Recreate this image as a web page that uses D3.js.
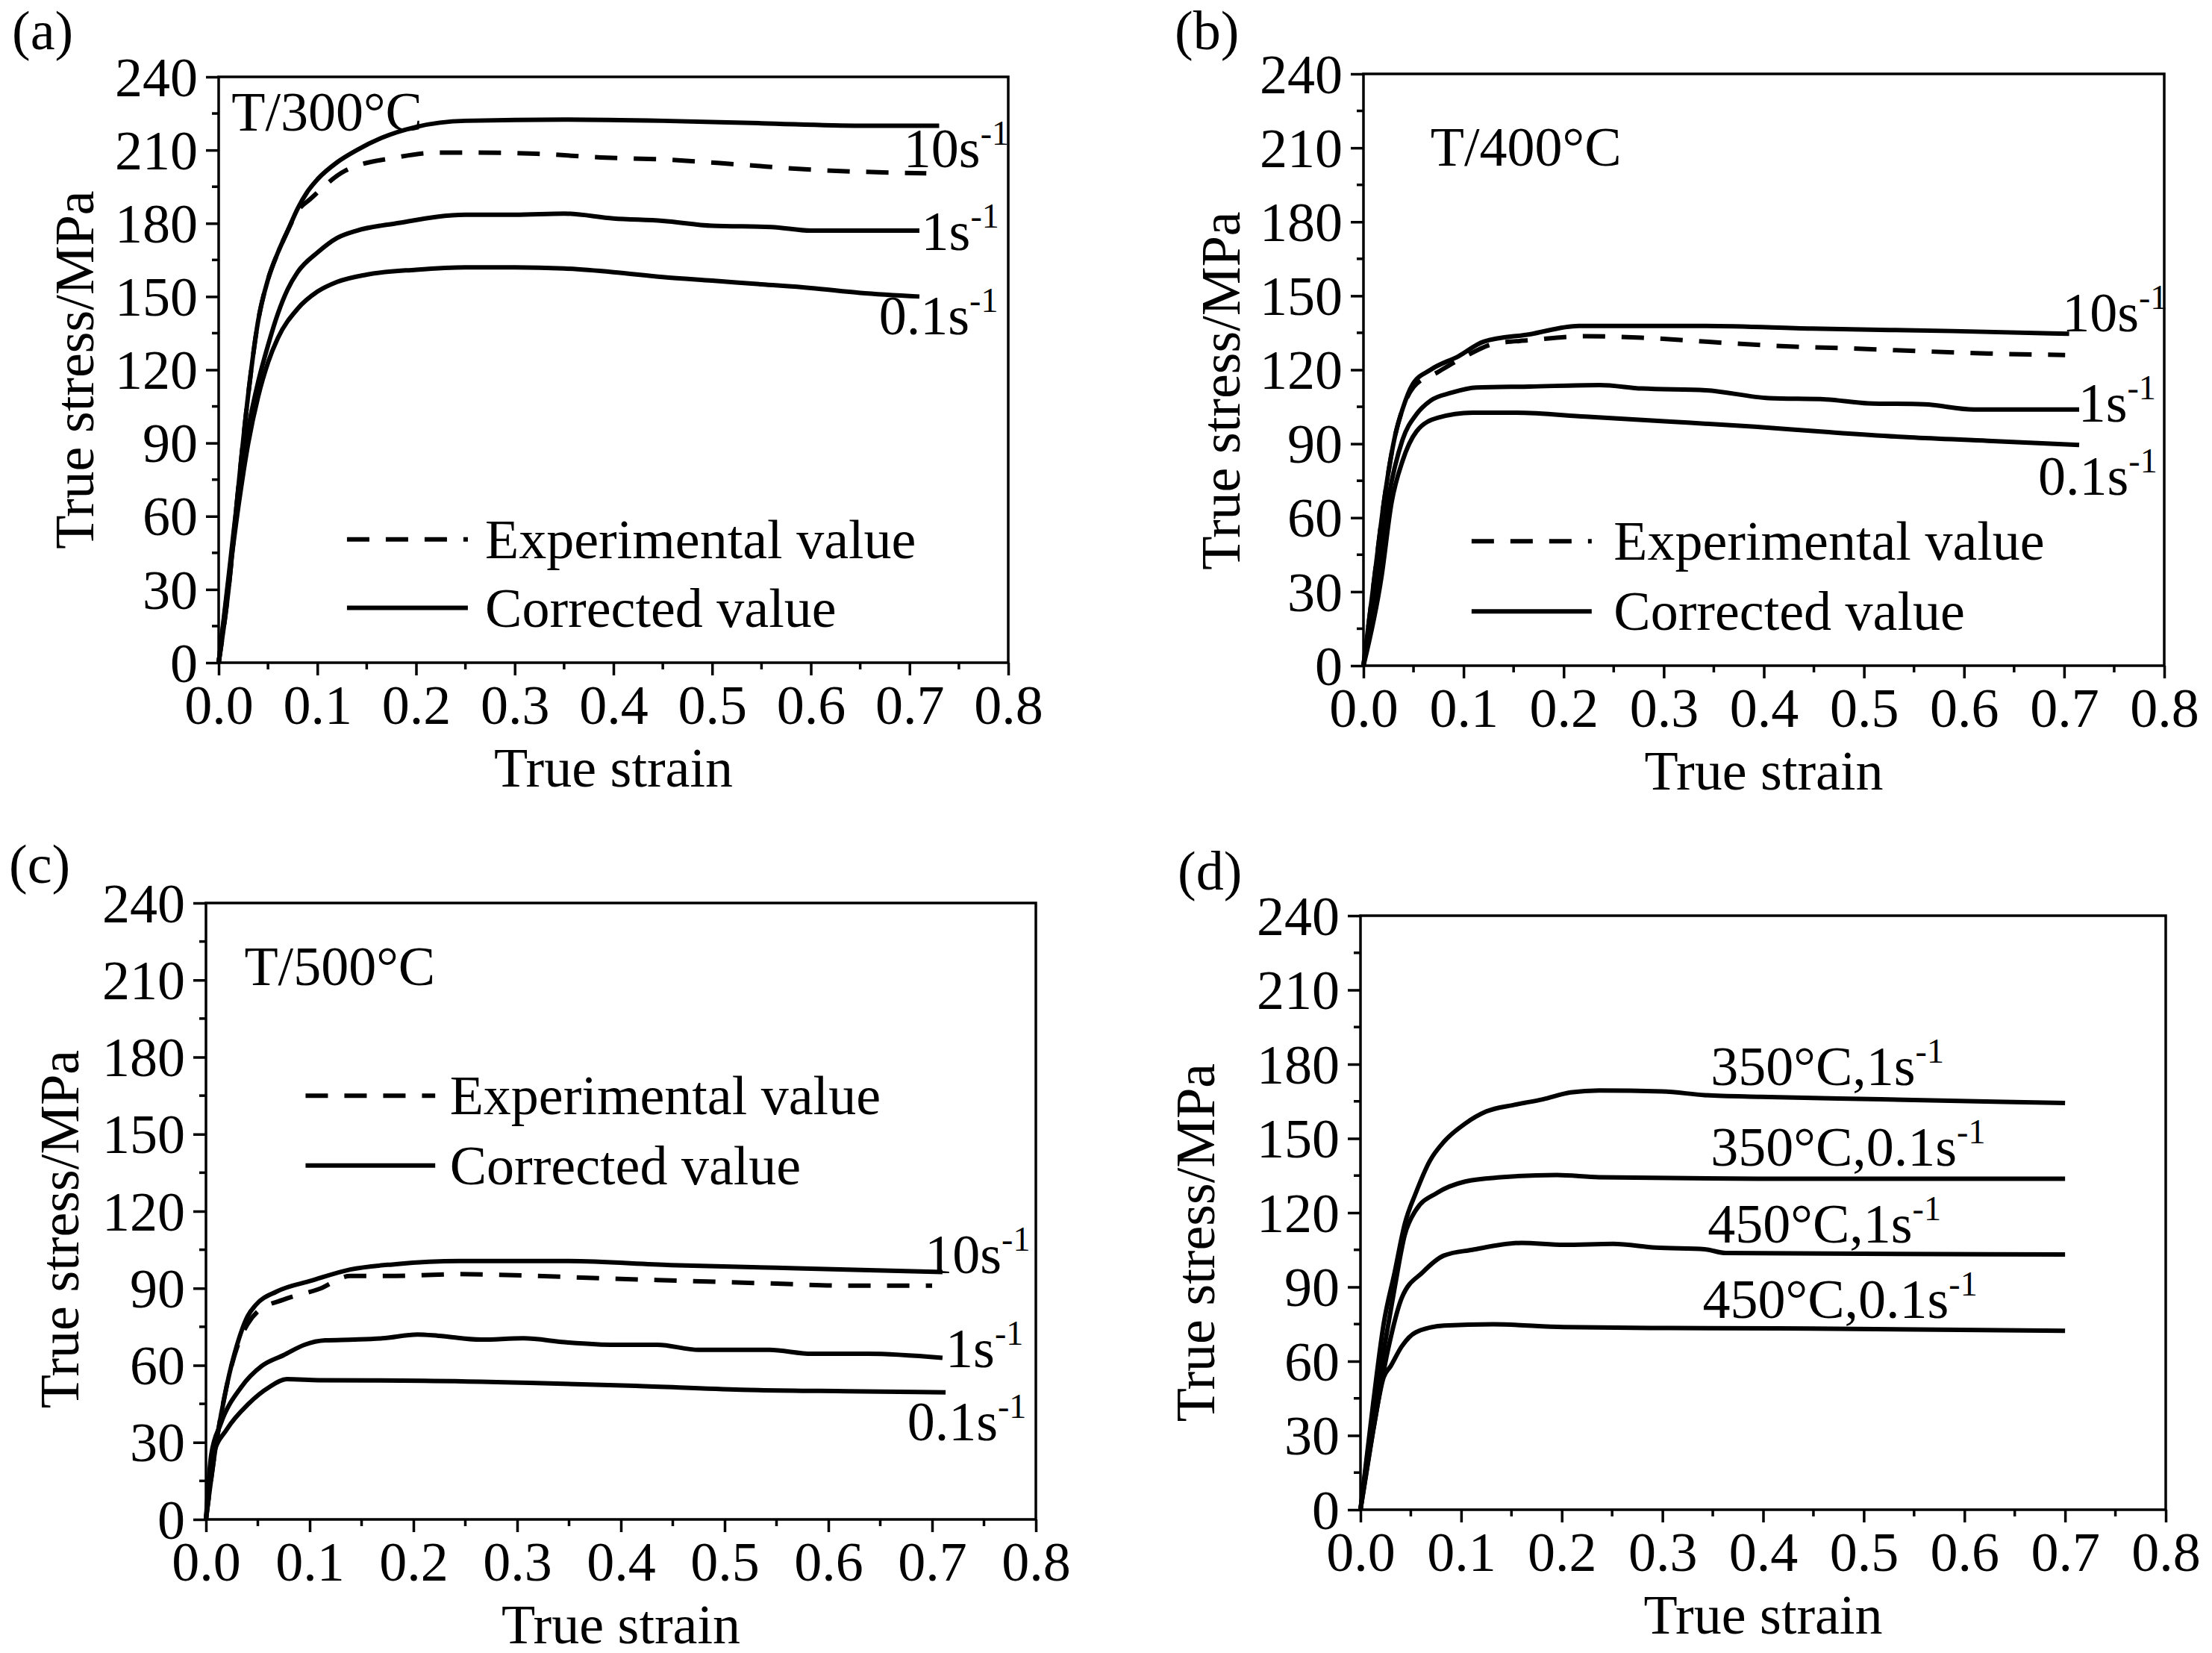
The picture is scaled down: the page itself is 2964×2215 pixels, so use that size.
<!DOCTYPE html>
<html><head><meta charset="utf-8">
<script src="https://cdn.jsdelivr.net/npm/d3@7"></script>
<style>body{margin:0;background:#fff}svg{display:block}text{font-family:"Liberation Serif","Times New Roman",serif;fill:#000}</style>
</head><body>
<svg id="chart" width="2964" height="2215"></svg>
<script>
// ---------- data ----------
const xTicks = [0, 0.1, 0.2, 0.3, 0.4, 0.5, 0.6, 0.7, 0.8];
const xTickLabels = ["0.0","0.1","0.2","0.3","0.4","0.5","0.6","0.7","0.8"];
const yTicks = [0, 30, 60, 90, 120, 150, 180, 210, 240];
const yTickLabels = ["0","30","60","90","120","150","180","210","240"];
const panelLetters = ["(a)", "(b)", "(c)", "(d)"];
const panelTitles = ["T/300°C", "T/400°C", "T/500°C", ""];
const xTitle = "True strain";
const yTitle = "True stress/MPa";
const legendLabels = ["Experimental value", "Corrected value"];

// (a) 300°C
const a_10_corr = [[0,0],[0.01,30],[0.02,72],[0.03,110],[0.04,140],[0.05,157],[0.06,168],[0.07,177],[0.08,186],[0.09,193],[0.1,198],[0.12,205],[0.14,210],[0.165,215],[0.2,219.5],[0.25,222],[0.35,222.5],[0.45,222],[0.55,221],[0.65,220],[0.73,220]];
const a_10_exp = [[0,0],[0.01,30],[0.02,72],[0.03,110],[0.04,140],[0.05,157],[0.06,168],[0.07,177],[0.08,185],[0.093,190],[0.128,201.5],[0.18,207],[0.222,209],[0.265,209],[0.322,208.5],[0.387,207],[0.458,206],[0.53,204],[0.6,202],[0.717,200.5]];
const a_1_corr = [[0,0],[0.01,35],[0.02,70],[0.03,96],[0.04,115],[0.05,130],[0.06,143],[0.07,153],[0.08,160],[0.1,168],[0.12,174],[0.14,177],[0.18,180],[0.25,183.5],[0.3,183.5],[0.35,184],[0.4,182],[0.45,181],[0.5,179],[0.56,178.5],[0.6,177],[0.65,177],[0.71,177]];
const a_01_corr = [[0,0],[0.01,33],[0.02,64],[0.03,90],[0.04,109],[0.05,123],[0.06,133],[0.08,145],[0.1,152],[0.12,156],[0.15,159],[0.2,161],[0.25,162],[0.3,162],[0.35,161.5],[0.4,160],[0.45,158],[0.5,156.5],[0.55,155],[0.6,153.5],[0.65,151.5],[0.71,150]];
// (b) 400°C
const b_10_corr = [[0,0],[0.011,36],[0.021,68],[0.032,94],[0.039,104],[0.049,114],[0.067,120],[0.095,125.5],[0.12,131.4],[0.166,134.4],[0.215,137.8],[0.342,137.8],[0.448,136.7],[0.589,135.7],[0.705,134.6]];
const b_10_exp = [[0,0],[0.011,36],[0.021,68],[0.032,94],[0.039,104],[0.05,113],[0.074,119],[0.102,125.5],[0.13,130.5],[0.166,132],[0.222,133.6],[0.278,133],[0.342,131.4],[0.412,129.7],[0.483,128.7],[0.553,127.6],[0.624,126.6],[0.701,126]];
const b_1_corr = [[0,0],[0.014,36],[0.025,68],[0.039,91.6],[0.053,102],[0.067,107.5],[0.088,110.7],[0.113,112.8],[0.166,113.2],[0.236,113.8],[0.278,112.4],[0.342,111.7],[0.405,108.5],[0.462,108],[0.504,106.4],[0.56,106],[0.61,103.9],[0.652,103.9],[0.715,103.9]];
const b_01_corr = [[0,0],[0.018,36],[0.028,66],[0.039,83],[0.053,95],[0.074,100.5],[0.109,102.6],[0.152,102.6],[0.222,101],[0.307,99],[0.391,96.9],[0.462,94.8],[0.546,92.6],[0.624,91.2],[0.715,89.5]];
// (c) 500°C
const c_10_corr = [[0,0],[0.01,30],[0.02,52],[0.03,68],[0.04,79],[0.048,83.5],[0.068,88.7],[0.102,93],[0.139,97.3],[0.183,99.4],[0.244,100.6],[0.346,100.6],[0.448,99],[0.55,98],[0.618,97.3],[0.71,96.3]];
const c_10_exp = [[0,0],[0.01,30],[0.02,52],[0.03,67],[0.04,76],[0.05,81],[0.075,85.6],[0.109,89.7],[0.139,94.8],[0.183,94.8],[0.244,95.5],[0.319,94.8],[0.387,93.8],[0.469,92.8],[0.55,91.8],[0.618,91],[0.7,91]];
const c_1_corr = [[0,0],[0.005,25],[0.014,37],[0.034,51.5],[0.054,59.8],[0.075,64],[0.095,68],[0.115,69.7],[0.143,70],[0.17,70.5],[0.204,72],[0.224,71.5],[0.265,70],[0.306,70.5],[0.346,69],[0.394,68],[0.435,68],[0.475,66],[0.543,66],[0.584,64.5],[0.638,64.5],[0.71,62.9]];
const c_01_corr = [[0,0],[0.007,25],[0.02,35],[0.041,45],[0.061,51.5],[0.078,54.6],[0.109,54.2],[0.21,54],[0.312,53.2],[0.414,52],[0.516,50.5],[0.618,49.9],[0.713,49.5]];
// (d)
const d_350_1 = [[0,0],[0.0126,43],[0.023,75],[0.034,96],[0.044,115.5],[0.055,128],[0.069,141],[0.083,148.7],[0.104,156],[0.125,160.9],[0.153,163.6],[0.181,165.8],[0.209,168.6],[0.237,169.4],[0.3,169],[0.342,167.5],[0.398,166.8],[0.517,165.8],[0.7,164.3]];
const d_350_01 = [[0,0],[0.0126,38.5],[0.023,64],[0.034,89.8],[0.044,111],[0.055,121],[0.076,128],[0.104,132.6],[0.139,134.3],[0.195,135.2],[0.237,134.3],[0.398,133.7],[0.7,133.7]];
const d_450_1 = [[0,0],[0.0126,32],[0.027,64],[0.041,85.6],[0.062,96],[0.083,102.7],[0.111,105],[0.16,107.8],[0.202,107],[0.251,107.4],[0.293,105.9],[0.342,105.2],[0.363,103.7],[0.7,103.1]];
const d_450_01 = [[0,0],[0.0126,32],[0.023,53.5],[0.03,58],[0.041,66],[0.055,71.7],[0.083,74.4],[0.132,74.9],[0.202,73.8],[0.307,73.4],[0.447,73.2],[0.7,72.3]];

const rateLabels = ["10s", "1s", "0.1s"];
const dLabels = ["350°C,1s", "350°C,0.1s", "450°C,1s", "450°C,0.1s"];
const supText = "-1";

// ---------- layout ----------
const panels = [
  {box:[293,1351,103,888], letter:[16,66], ytx:100, yty:0,
   title:[0.013,218],
   curves:[{d:a_10_exp,dash:true},{d:a_10_corr},{d:a_1_corr},{d:a_01_corr}],
   labels:[[0,0.694,203],[1,0.712,169],[2,0.669,134.5]],
   legend:{x0:0.13,x1:0.2525,xt:0.27,y:[50.5,22.5]}},
  {box:[1827,2900,99,892], letter:[1574,66], ytx:1636, yty:28,
   title:[0.067,202.8],
   curves:[{d:b_10_exp,dash:true},{d:b_10_corr},{d:b_1_corr},{d:b_01_corr}],
   labels:[[0,0.698,135.6],[1,0.714,99],[2,0.674,69.3]],
   legend:{x0:0.108,x1:0.228,xt:0.25,y:[50.5,22]}},
  {box:[276,1388,1210,2036], letter:[12,1183], ytx:80, yty:24,
   title:[0.037,208],
   curves:[{d:c_10_exp,dash:true},{d:c_10_corr},{d:c_1_corr},{d:c_01_corr}],
   labels:[[0,0.693,96],[1,0.713,59.3],[2,0.676,30.8]],
   legend:{x0:0.096,x1:0.221,xt:0.235,y:[165,137.8]}},
  {box:[1823,2902,1227,2023], letter:[1578,1192], ytx:1602, yty:40,
   title:null,
   curves:[{d:d_350_1},{d:d_350_01},{d:d_450_1},{d:d_450_01}],
   dlabels:[[0,0.348,171.5],[1,0.348,138.9],[2,0.345,108],[3,0.34,77.6]],
   legend:null}
];

const svg = d3.select("#chart");
const FS = 74, SUPFS = 46;

panels.forEach((p, i) => {
  const [L, R, T, B] = p.box;
  const x = d3.scaleLinear().domain([0, 0.8]).range([L, R]);
  const y = d3.scaleLinear().domain([0, 240]).range([B, T]);
  const g = svg.append("g");

  // minor ticks
  const xMinor = d3.range(0.05, 0.8, 0.1);
  const yMinor = d3.range(15, 240, 30);
  g.selectAll(".xm").data(xMinor).join("line")
    .attr("x1", d => x(d)).attr("x2", d => x(d)).attr("y1", B).attr("y2", B + 9)
    .attr("stroke", "#000").attr("stroke-width", 3.5);
  g.selectAll(".ym").data(yMinor).join("line")
    .attr("y1", d => y(d)).attr("y2", d => y(d)).attr("x1", L).attr("x2", L - 9)
    .attr("stroke", "#000").attr("stroke-width", 3.5);

  // axes
  const xAxis = d3.axisBottom(x).tickValues(xTicks).tickFormat((d, k) => xTickLabels[k]).tickSize(17).tickSizeOuter(0).tickPadding(12);
  const yAxis = d3.axisLeft(y).tickValues(yTicks).tickFormat((d, k) => yTickLabels[k]).tickSize(17).tickSizeOuter(0).tickPadding(11);
  const gx = g.append("g").attr("transform", `translate(0,${B})`).call(xAxis);
  const gy = g.append("g").attr("transform", `translate(${L},0)`).call(yAxis);
  [gx, gy].forEach(a => {
    a.selectAll("path,line").attr("stroke", "#000").attr("stroke-width", 3.5);
    a.selectAll("text").attr("font-size", FS).attr("font-family", "Liberation Serif").attr("fill", "#000");
  });
  gx.selectAll("text").attr("dy", "0.71em");
  gy.selectAll("text").attr("dy", "0.34em");
  gx.select(".domain").remove(); gy.select(".domain").remove();
  // box
  g.append("rect").attr("x", L).attr("y", T).attr("width", R - L).attr("height", B - T)
    .attr("fill", "none").attr("stroke", "#000").attr("stroke-width", 3.5);

  // curves
  const line = d3.line().x(d => x(d[0])).y(d => y(d[1])).curve(d3.curveMonotoneX);
  p.curves.forEach(c => {
    g.append("path").attr("d", line(c.d)).attr("fill", "none").attr("stroke", "#000")
      .attr("stroke-width", 6).attr("stroke-linejoin", "round")
      .attr("stroke-dasharray", c.dash ? "30,22" : null);
  });

  // titles
  g.append("text").attr("x", (L + R) / 2).attr("y", B + 166).attr("text-anchor", "middle")
    .attr("font-size", FS).text(xTitle);
  g.append("text").attr("transform", `translate(${p.ytx},${(T + B) / 2 + p.yty}) rotate(-90)`)
    .attr("dy", "0.34em").attr("text-anchor", "middle").attr("font-size", FS).text(yTitle);
  g.append("text").attr("x", p.letter[0]).attr("y", p.letter[1]).attr("font-size", FS).text(panelLetters[i]);
  if (p.title) g.append("text").attr("x", x(p.title[0])).attr("y", y(p.title[1])).attr("font-size", FS).text(panelTitles[i]);

  // rate labels
  const addLab = (txt, lx, ly) => {
    const t = g.append("text").attr("x", x(lx)).attr("y", y(ly)).attr("font-size", FS);
    t.append("tspan").text(txt);
    t.append("tspan").attr("font-size", SUPFS).attr("dy", -30).text(supText);
  };
  if (p.labels) p.labels.forEach(l => addLab(rateLabels[l[0]], l[1], l[2]));
  if (p.dlabels) p.dlabels.forEach(l => addLab(dLabels[l[0]], l[1], l[2]));

  // legend
  if (p.legend) {
    const lg = p.legend;
    lg.y.forEach((ly, k) => {
      g.append("line").attr("x1", x(lg.x0)).attr("x2", x(lg.x1)).attr("y1", y(ly)).attr("y2", y(ly))
        .attr("stroke", "#000").attr("stroke-width", 6)
        .attr("stroke-dasharray", k === 0 ? "30,22" : null);
      g.append("text").attr("x", x(lg.xt)).attr("y", y(ly)).attr("dy", "0.34em")
        .attr("font-size", FS).text(legendLabels[k]);
    });
  }
});
</script>
</body></html>
